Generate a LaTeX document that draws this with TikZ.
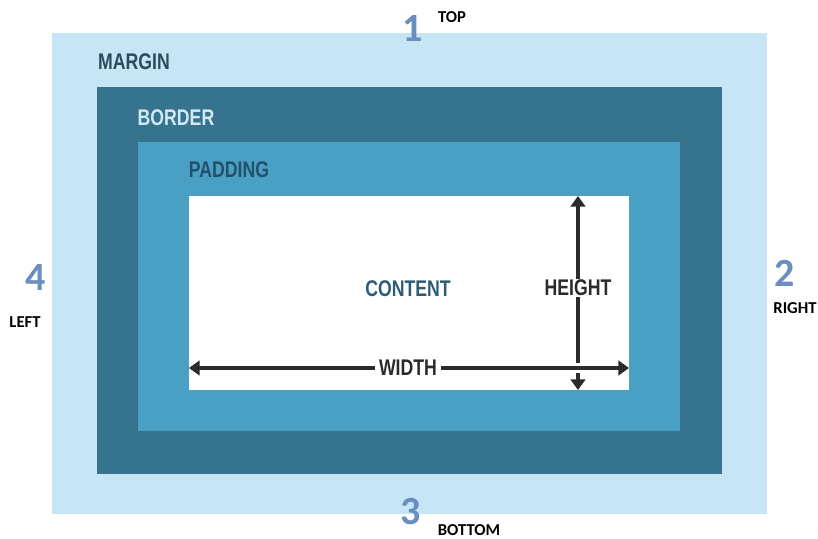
\documentclass[tikz,border=0pt]{standalone}
\usepackage{fontspec}
\setmainfont{Liberation Sans}
\newfontfamily\calib{Carlito}
\usetikzlibrary{arrows.meta}
\definecolor{cMargin}{HTML}{C6E6F6}
\definecolor{cBorder}{HTML}{35738F}
\definecolor{cPadding}{HTML}{4A9FC5}
\definecolor{cNum}{HTML}{6B8DBF}
\definecolor{tMargin}{HTML}{2D4B5F}
\definecolor{tBorder}{HTML}{D2E8F3}
\definecolor{tPadding}{HTML}{24516A}
\definecolor{tContent}{HTML}{2E5C78}
\definecolor{tDark}{HTML}{2B2B2B}
\newcommand{\boxlab}[1]{\scalebox{0.78}[1]{\fontsize{17}{17}\selectfont\bfseries #1}}
\tikzset{
  layer/.style={draw=none, inner sep=0pt, outer sep=0pt, anchor=north west},
  boxtext/.style={inner sep=1pt},
  num/.style={text=cNum, font=\calib\bfseries\fontsize{30}{30}\selectfont, inner sep=0pt},
  side/.style={text=black, font=\calib\bfseries\fontsize{12.5}{12.5}\selectfont, inner sep=0pt},
  dimarrow/.style={draw=tDark, line width=3pt, {Triangle[width=11pt,length=8pt]}-{Triangle[width=11pt,length=8pt]}, shorten <=0pt, shorten >=0pt},
  dimtext/.style={fill=white, text=tDark, inner xsep=3pt, inner ysep=1pt}
}
\begin{document}
\begin{tikzpicture}[x=0.75pt,y=-0.75pt]
\useasboundingbox (0,0) rectangle (818,539);
% layers
\node[layer, fill=cMargin, minimum width=715*0.75pt, minimum height=481*0.75pt] (margin) at (52,33) {};
\node[layer, fill=cBorder, minimum width=625*0.75pt, minimum height=387*0.75pt] (border) at (97,87) {};
\node[layer, fill=cPadding, minimum width=542*0.75pt, minimum height=289*0.75pt] (padding) at (138,142) {};
\node[layer, fill=white, minimum width=440*0.75pt, minimum height=194*0.75pt] (content) at (189,196) {};
% layer labels
\node[boxtext, text=tMargin] (lmargin) at (134,62) {\boxlab{MARGIN}};
\node[boxtext, text=tBorder] (lborder) at (176,118) {\boxlab{BORDER}};
\node[boxtext, text=tPadding] (lpadding) at (229,170) {\boxlab{PADDING}};
\node[boxtext, text=tContent] (lcontent) at (408,289) {\boxlab{CONTENT}};
% dimension arrows
\coordinate (htop) at (578,196);
\coordinate (hbot) at (578,390);
\coordinate (wl) at (189,368);
\coordinate (wr) at (629,368);
\coordinate (gapl) at (571,368);
\coordinate (gapr) at (585,368);
\draw[dimarrow] (htop) -- (hbot);
\draw[white, line width=8pt] (gapl) -- (gapr);
\draw[dimarrow] (wl) -- (wr);
\node[dimtext] (lheight) at (578,288) {\boxlab{HEIGHT}};
\node[dimtext] (lwidth) at (408,368) {\boxlab{WIDTH}};
% side numbers and names
\node[num] (n1) at (413,29) {1};
\node[side] (top) at (452,17) {TOP};
\node[num] (n2) at (785,273) {2};
\node[side] (right) at (795,308) {RIGHT};
\node[num] (n3) at (411,512) {3};
\node[side] (bottom) at (469,530) {BOTTOM};
\node[num] (n4) at (36,278) {4};
\node[side] (left) at (25,322) {LEFT};
\end{tikzpicture}
\end{document}
